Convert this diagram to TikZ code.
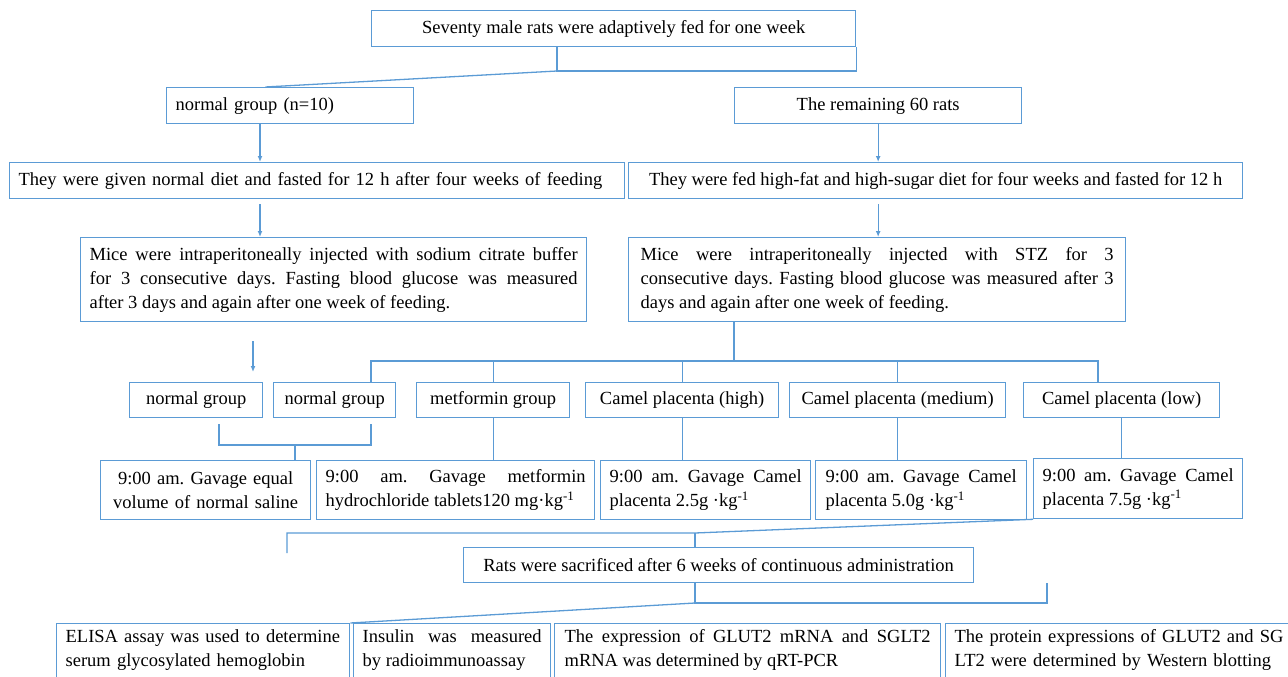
\documentclass[tikz,border=0pt]{standalone}
\usepackage{fontspec}
\setmainfont{Liberation Serif}
\usepackage{tikz}
\usetikzlibrary{arrows.meta,calc}
\definecolor{lineblue}{RGB}{91,155,213}

\begin{document}
\begin{tikzpicture}[x=1pt, y=-1pt,
        box/.style={draw=lineblue, line width=1.3pt, anchor=north west, inner xsep=9pt, inner ysep=0pt,
            font=\fontsize{18.5}{24}\selectfont\frenchspacing},
        link/.style={draw=lineblue, line width=1.3pt},
        >={Latex[length=6pt,width=5pt]}]
        \useasboundingbox (0,0) rectangle (1288,677);
        \clip (0,0) rectangle (1288,677);

        % Define nodes
        \node[box, minimum width=484pt, minimum height=36pt] (T) at (371,10) {Seventy male rats were adaptively fed for one week};
        \node[box, text width=229pt, minimum height=36pt, align=left] (N0) at (166,87) {normal group (n=10)};
        \node[box, minimum width=287pt, minimum height=36pt] (R0) at (734,87) {The remaining 60 rats};

        \node[box, text width=597pt, minimum height=36pt, align=left] (D1) at (9,162) {They were given normal diet and fasted for 12 h after four weeks of feeding};
        \node[box, minimum width=614pt, minimum height=36pt] (D2) at (628,162) {They were fed high-fat and high-sugar diet for four weeks and fasted for 12 h};

        \node[box, text width=488pt, minimum height=84pt, align=justify] (M1) at (80,237) {Mice were intraperitoneally injected with sodium citrate buffer\linebreak for 3 consecutive days. Fasting blood glucose was measured\linebreak after 3 days and again after one week of feeding.};
        \node[box, inner xsep=12pt, text width=473pt, minimum height=84pt, align=justify] (M2) at (628,237) {Mice were intraperitoneally injected with STZ for 3\linebreak consecutive days. Fasting blood glucose was measured after 3\linebreak days and again after one week of feeding.};

        \node[box, minimum width=133pt, minimum height=35pt] (G1) at (129,382) {normal group};
        \node[box, minimum width=122pt, minimum height=35pt] (G2) at (273,382) {normal group};
        \node[box, minimum width=153pt, minimum height=35pt] (G3) at (416,382) {metformin group};
        \node[box, minimum width=193pt, minimum height=35pt] (G4) at (585,382) {Camel placenta (high)};
        \node[box, minimum width=216pt, minimum height=35pt] (G5) at (789,382) {Camel placenta (medium)};
        \node[box, minimum width=196pt, minimum height=35pt] (G6) at (1023,382) {Camel placenta (low)};

        \node[box, text width=192pt, minimum height=59pt, align=center] (A) at (100,460) {9:00 am. Gavage equal\\ volume of normal saline};
        \node[box, text width=260pt, minimum height=59pt, align=justify] (B) at (316,460) {9:00 am. Gavage metformin\linebreak hydrochloride tablets120 mg·kg\textsuperscript{-1}};
        \node[box, text width=192pt, minimum height=59pt, align=justify] (C) at (600,460) {9:00 am. Gavage Camel\linebreak placenta 2.5g ·kg\textsuperscript{-1}};
        \node[box, inner xsep=10pt, text width=191pt, minimum height=59pt, align=justify] (D) at (815,460) {9:00 am. Gavage Camel\linebreak placenta 5.0g ·kg\textsuperscript{-1}};
        \node[box, text width=191pt, minimum height=60pt, align=justify] (E) at (1033,458) {9:00 am. Gavage Camel\linebreak placenta 7.5g ·kg\textsuperscript{-1}};

        \node[box, minimum width=510pt, minimum height=35pt] (S) at (463,547) {Rats were sacrificed after 6 weeks of continuous administration};

        \node[box, inner ysep=6pt, text width=275pt, align=left] (F) at (56,623) {ELISA assay was used to determine\\ serum glycosylated hemoglobin\\ \mbox{}};
        \node[box, inner ysep=6pt, text width=179pt, align=justify] (H1) at (353,623) {Insulin was measured\linebreak by radioimmunoassay\par\mbox{}};
        \node[box, inner xsep=10pt, inner ysep=6pt, text width=366pt, align=justify] (H2) at (554,623) {The expression of GLUT2 mRNA and SGLT2\linebreak mRNA was determined by qRT-PCR\par\mbox{}};
        \node[box, inner ysep=6pt, text width=342pt, align=left] (H3) at (945,623) {The protein expressions of GLUT2 and SG\\ LT2 were determined by Western blotting\\ \mbox{}};

        % Draw edges
        \coordinate (t1) at (557,71);
        \draw[link] (T.south -| t1) -- (t1) -- (T.south east |- t1) -- (T.south east);
        \draw[link] (t1) -- ($(N0.north west)!0.4!(N0.north east)$);

        \coordinate (c1) at (260,0);
        \draw[link,->] (N0.south -| c1) -- (D1.north -| c1);
        \draw[link,->,shorten <=5pt] (D1.south -| c1) -- (M1.north -| c1);
        \draw[link,->] (R0.south) -- (D2.north -| R0.south);
        \draw[link,->,shorten <=5pt] (D2.south -| R0.south) -- (M2.north -| R0.south);

        \coordinate (c2) at (253,0);
        \draw[link,->,shorten <=19pt,shorten >=10pt] (M1.south -| c2) -- (G1.north -| c2);

        \coordinate (c3) at (734,0);
        \coordinate (b1l) at (371,361);
        \coordinate (b1r) at (1098,361);
        \draw[link] (M2.south -| c3) -- (c3 |- b1l);
        \draw[link] (G2.north -| b1l) -- (b1l) -- (b1r) -- (G6.north -| b1r);
        \foreach \g in {3,4,5}
            \draw[link] (G\g.north |- b1l) -- (G\g.north);

        \coordinate (b2l) at (219,445);
        \coordinate (b2r) at (371,445);
        \coordinate (b2m) at (295,445);
        \draw[link,shorten <=6pt,shorten >=6pt] (G1.south -| b2l) -- (b2l) -- (b2r) -- (G2.south -| b2r);
        \draw[link] (b2m) -- (A.north -| b2m);
        \foreach \g/\r in {3/B,4/C,5/D,6/E}
            \draw[link] (G\g.south) -- (\r.north -| G\g.south);

        \coordinate (s1) at (287,533);
        \coordinate (s2) at (695,533);
        \draw[link] ($(s1)+(0,20)$) -- (s1) -- (s2) -- (E.south west);
        \draw[link] (s2) -- (S.north -| s2);

        \coordinate (s3) at (695,603);
        \coordinate (s4) at (1047,603);
        \draw[link] (S.south -| s3) -- (s3) -- (s4) -- (s4 |- S.south);
        \draw[link] (s3) -- (F.north east);
    \end{tikzpicture}
\end{document}
